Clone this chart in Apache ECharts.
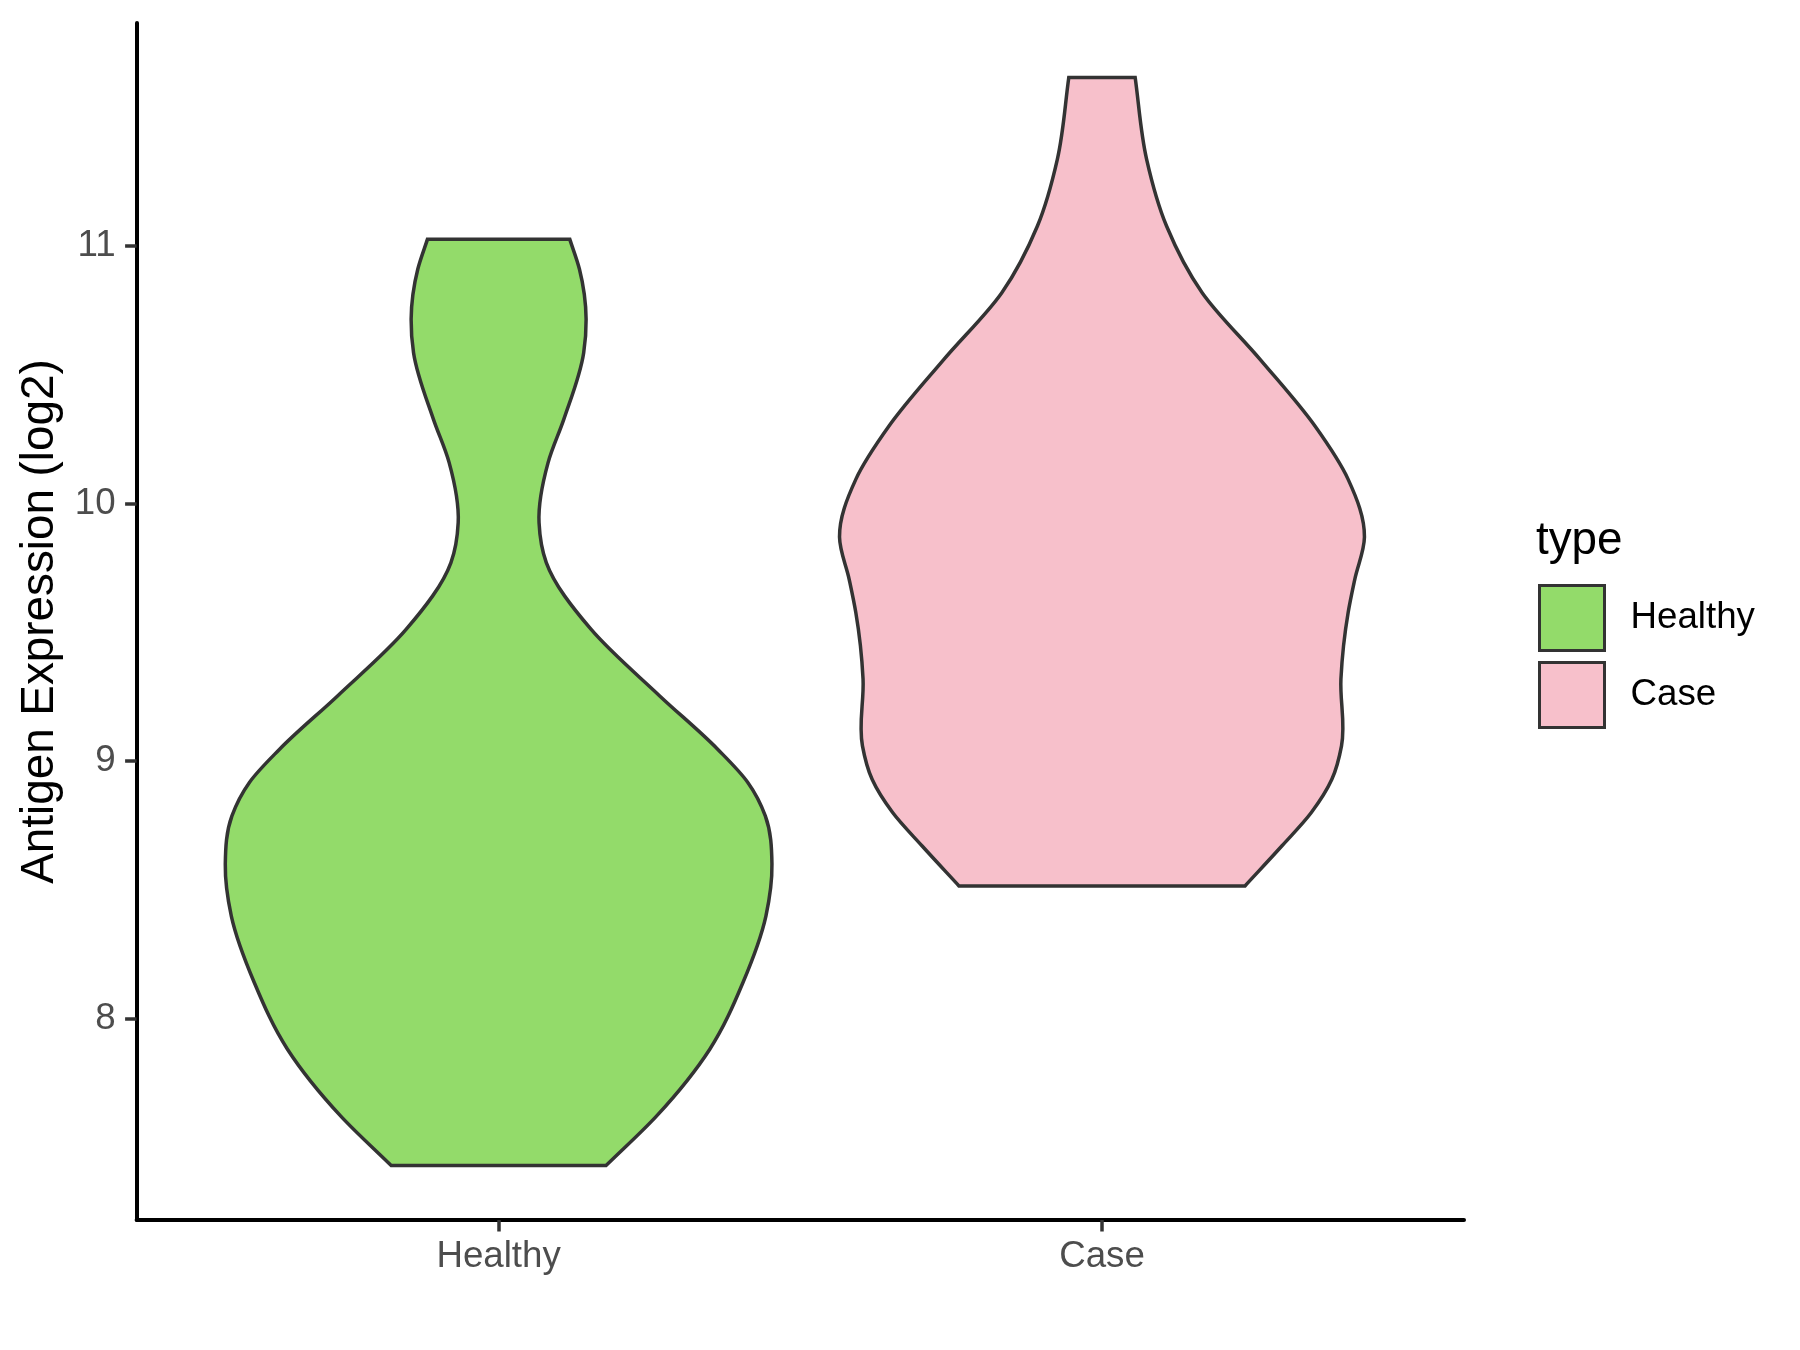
<!DOCTYPE html>
<html>
<head>
<meta charset="utf-8">
<script src="https://cdn.jsdelivr.net/npm/echarts@6/dist/echarts.min.js"></script>
<style>
    html, body { margin: 0; padding: 0; background: #ffffff; }
    #chart { width: 1800px; height: 1350px; }
</style>
</head>
<body>
<div id="chart"></div>
<script>
// categories and their positions on the x axis
const categories = ['Healthy', 'Case'];
const positions = [1, 2];
const fills = ['#93DB6A', '#F7C0CB'];

// violin outlines: expression level (log2) and half width (in x units)
const healthyLevels = [7.429, 7.622, 7.881, 8.140, 8.398, 8.600, 8.787, 8.917, 9.046, 9.253,
    9.512, 9.771, 9.926, 10.159, 10.327, 10.586, 10.716, 10.910, 11.026];
const healthyHalfWidths = [0.178, 0.262, 0.350, 0.405, 0.443, 0.453, 0.442, 0.413, 0.363, 0.267,
    0.153, 0.079, 0.067, 0.082, 0.108, 0.141, 0.145, 0.134, 0.118];

const caseLevels = [8.515, 8.670, 8.800, 8.929, 9.059, 9.318, 9.577, 9.706, 9.870, 10.094,
    10.301, 10.560, 10.819, 11.078, 11.337, 11.655];
const caseHalfWidths = [0.237, 0.298, 0.347, 0.381, 0.397, 0.396, 0.408, 0.419, 0.435, 0.408,
    0.353, 0.262, 0.166, 0.107, 0.074, 0.055];

const yTicks = [8, 9, 10, 11];

const levels = [healthyLevels, caseLevels];
const halfWidths = [healthyHalfWidths, caseHalfWidths];

// y range like ggplot: data range plus 5% on each side
const allLevels = healthyLevels.concat(caseLevels);
const yLow = Math.min(...allLevels);
const yHigh = Math.max(...allLevels);
const yPad = (yHigh - yLow) * 0.05;

const FONT = '"Liberation Sans", Arial, sans-serif';

// slope of half width against level at each point (three point estimate)
function slopes(lv, hw) {
    const n = lv.length;
    const m = [];
    for (let i = 0; i < n; i++) {
        if (i === 0) {
            m.push((hw[1] - hw[0]) / (lv[1] - lv[0]));
        } else if (i === n - 1) {
            m.push((hw[n - 1] - hw[n - 2]) / (lv[n - 1] - lv[n - 2]));
        } else {
            const h0 = lv[i] - lv[i - 1], h1 = lv[i + 1] - lv[i];
            const d0 = (hw[i] - hw[i - 1]) / h0, d1 = (hw[i + 1] - hw[i]) / h1;
            m.push((d0 * h1 + d1 * h0) / (h0 + h1));
        }
    }
    return m;
}

// one side of the violin as cubic bezier pieces (hermite in level)
function sideSegments(api, center, sign, lv, hw, reverse) {
    const m = slopes(lv, hw);
    const segs = [];
    for (let i = 0; i < lv.length - 1; i++) {
        const h = lv[i + 1] - lv[i];
        const p0 = api.coord([center + sign * hw[i], lv[i]]);
        const c1 = api.coord([center + sign * (hw[i] + m[i] * h / 3), lv[i] + h / 3]);
        const c2 = api.coord([center + sign * (hw[i + 1] - m[i + 1] * h / 3), lv[i + 1] - h / 3]);
        const p1 = api.coord([center + sign * hw[i + 1], lv[i + 1]]);
        segs.push([p0, c1, c2, p1]);
    }
    let d = '';
    if (!reverse) {
        segs.forEach(s => {
            d += ' C' + s[1].join(' ') + ' ' + s[2].join(' ') + ' ' + s[3].join(' ');
        });
    } else {
        segs.slice().reverse().forEach(s => {
            d += ' C' + s[2].join(' ') + ' ' + s[1].join(' ') + ' ' + s[0].join(' ');
        });
    }
    return d;
}

function violinPath(api, center, lv, hw) {
    const n = lv.length;
    const start = api.coord([center - hw[0], lv[0]]);
    const topRight = api.coord([center + hw[n - 1], lv[n - 1]]);
    let d = 'M' + start.join(' ');
    d += sideSegments(api, center, -1, lv, hw, false);
    d += ' L' + topRight.join(' ');
    d += sideSegments(api, center, 1, lv, hw, true);
    d += ' Z';
    return d;
}

const chart = echarts.init(document.getElementById('chart'), null, { renderer: 'canvas' });

const option = {
    animation: false,
    backgroundColor: '#ffffff',
    grid: { left: 136.6, right: 336, top: 23, bottom: 130 },
    xAxis: {
        type: 'value',
        min: 0.4,
        max: 2.6,
        splitLine: { show: false },
        axisLine: { onZero: false, lineStyle: { color: '#000000', width: 4 } },
        axisTick: { customValues: positions, length: 11.5, lineStyle: { color: '#333333', width: 3.5 } },
        axisLabel: {
            customValues: positions,
            formatter: v => categories[Math.round(v) - 1],
            fontSize: 36.7,
            fontFamily: FONT,
            color: '#4D4D4D',
            margin: 18
        }
    },
    yAxis: {
        type: 'value',
        min: yLow - yPad,
        max: yHigh + yPad,
        splitLine: { show: false },
        axisLine: { onZero: false, lineStyle: { color: '#000000', width: 4 } },
        axisTick: { customValues: yTicks, length: 11.5, lineStyle: { color: '#333333', width: 3.5 } },
        axisLabel: {
            customValues: yTicks,
            fontSize: 36.7,
            fontFamily: FONT,
            color: '#4D4D4D',
            margin: 21
        }
    },
    legend: {
        data: categories,
        orient: 'vertical',
        left: 1533,
        top: 579,
        icon: 'rect',
        itemWidth: 65,
        itemHeight: 65,
        itemGap: 9,
        selectedMode: false,
        itemStyle: { borderColor: '#333333', borderWidth: 3 },
        textStyle: { fontSize: 36.7, fontFamily: FONT, color: '#000000', padding: [0, 0, 0, 21] }
    },
    graphic: [
        {
            type: 'text',
            x: 1536,
            y: 541,
            style: { text: 'type', font: '45.8px ' + FONT, fill: '#000000', verticalAlign: 'middle' }
        },
        {
            type: 'text',
            x: 40,
            y: 621.5,
            rotation: Math.PI / 2,
            style: {
                text: 'Antigen Expression (log2)',
                font: '45.8px ' + FONT,
                fill: '#000000',
                align: 'center',
                verticalAlign: 'middle'
            }
        }
    ],
    series: categories.map((name, i) => ({
        name: name,
        type: 'custom',
        silent: true,
        itemStyle: { color: fills[i] },
        encode: { x: 0, y: 1 },
        data: [[positions[i], levels[i][0]]],
        renderItem: (params, api) => ({
            type: 'path',
            shape: { pathData: violinPath(api, positions[i], levels[i], halfWidths[i]) },
            style: { fill: fills[i], stroke: '#333333', lineWidth: 3.5, lineJoin: 'miter' }
        })
    }))
};

chart.setOption(option);
</script>
</body>
</html>
